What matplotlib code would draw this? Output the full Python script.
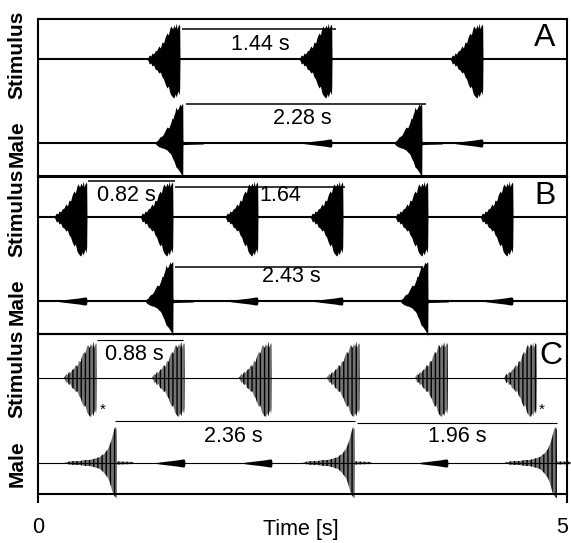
import numpy as np
import matplotlib.pyplot as plt
from matplotlib.transforms import ScaledTranslation

plt.rcParams['font.family'] = ['Liberation Sans', 'DejaVu Sans']
plt.rcParams['hatch.linewidth'] = 1.0

# burst end times (s) for each panel
stim_A = [1.342, 2.779, 4.206]
male_A = [1.370, 3.629]
echo_A = [2.779, 4.206]

stim_B = [0.463, 1.276, 2.079, 2.883, 3.686, 4.490]
male_B = [1.276, 3.686]
echo_B = [0.463, 2.079, 2.883, 4.490]

stim_C = [0.558, 1.389, 2.212, 3.043, 3.875, 4.716]
male_C = [0.747, 2.996, 4.905]
echo_C = [1.389, 2.212, 3.875]

# envelopes (time relative to burst end, amplitude up / down)
stim_env_t = [-0.312, -0.30, -0.29, -0.275, -0.265, -0.25, -0.235, -0.217, -0.20, -0.185,
              -0.170, -0.155, -0.14, -0.123, -0.11, -0.095, -0.085, -0.07, -0.057, -0.045,
              -0.035, -0.028, -0.018, -0.009, -0.003, 0.0]
stim_env_up = [0, 2, 4, 3, 6, 5, 8, 9, 13, 11, 17, 16, 22, 26, 24, 31, 33, 30, 34, 31,
               36, 30, 33, 35, 33, 0]
stim_env_dn = [0, 2, 5, 4, 7, 6, 10, 11, 14, 13, 18, 20, 25, 29, 27, 34, 36, 38, 39, 35,
               38, 35, 32, 36, 30, 0]

male_env_t = [-0.265, -0.25, -0.236, -0.225, -0.217, -0.20, -0.189, -0.17, -0.151, -0.135,
              -0.123, -0.11, -0.104, -0.095, -0.085, -0.075, -0.066, -0.055, -0.047, -0.035,
              -0.028, -0.018, -0.009, -0.002, 0.0, 0.01, 0.19, 0.2]
male_env_up = [0, 2, 3, 5, 6, 7, 8, 12, 16, 15, 18, 22, 25, 24, 28, 31, 36, 33, 34, 37,
               39, 37, 39, 39, 2, 1.5, 1, 0]
male_env_dn = [0, 2, 3, 4, 4, 5, 5, 6, 7, 9, 10, 12, 14, 16, 18, 21, 24, 25, 26, 28,
               29, 31, 33, 35, 2, 1.5, 1, 0]

maleC_env_t = [-0.50, -0.45, -0.40, -0.35, -0.30, -0.26, -0.22, -0.19, -0.16, -0.14,
               -0.12, -0.10, -0.085, -0.07, -0.055, -0.045, -0.035, -0.025, -0.015, -0.008,
               -0.002, 0.0, 0.01, 0.15, 0.16]
maleC_env_up = [0, 1.5, 2, 2, 3, 3, 4, 5, 6, 8, 9, 12, 14, 18, 22, 26, 30, 34, 36, 33,
                36, 1.5, 1.5, 1, 0]
maleC_env_dn = [0, 1.5, 2, 2, 3, 3, 4, 5, 6, 8, 10, 13, 15, 19, 24, 28, 31, 33, 34, 35,
                35, 1.5, 1.5, 1, 0]

echo_env_t = [-0.27, -0.24, -0.20, -0.16, -0.12, -0.08, -0.05, -0.025, -0.01, -0.003, 0.0]
echo_env_up = [0.5, 1, 1.5, 2, 2.5, 3, 3.5, 4, 4, 3, 0]

# interval bars: start, end, height
bars_A = [(1.361, 2.817, 147), (1.399, 3.667, 72)]
bars_B = [(0.473, 1.295, 153), (1.295, 2.902, 147), (1.295, 3.639, 67)]
bars_C = [(0.558, 1.371, 154), (0.728, 2.996, 73), (3.015, 4.905, 71)]

# interval labels: text, time, height
labels_A = [("1.44 s", 2.098, 132), ("2.28 s", 2.495, 58)]
labels_B = [("0.82 s", 0.832, 138), ("1.64", 2.287, 138), ("2.43 s", 2.391, 57)]
labels_C = [("0.88 s", 0.907, 139), ("2.36 s", 1.843, 57), ("1.96 s", 3.960, 57)]

stars_C = [0.614, 4.764]
panel_names = ["A", "B", "C"]


def burst(ax, t_end, base, env_t, up, dn, striped=False):
    t = t_end + np.array(env_t)
    y1 = base + np.array(up)
    y2 = base - np.array(dn)
    if striped:
        ax.fill_between(t, y1, y2, facecolor='0.45', edgecolor='k', hatch='||||',
                        lw=0, clip_on=False)
    else:
        ax.fill_between(t, y1, y2, color='k', lw=0, clip_on=False)


fig = plt.figure(figsize=(5.71, 5.43), dpi=100)
L, W = 38 / 571, 529 / 571
axA = fig.add_axes([L, 1 - 176 / 543, W, 157 / 543])
axB = fig.add_axes([L, 1 - 334 / 543, W, 157 / 543])
axC = fig.add_axes([L, 1 - 494 / 543, W, 160 / 543])

panels = [
    (axA, stim_A, male_A, echo_A, bars_A, labels_A, 157, 117, 33, False),
    (axB, stim_B, male_B, echo_B, bars_B, labels_B, 157, 117, 33, False),
    (axC, stim_C, male_C, echo_C, bars_C, labels_C, 160, 116, 31, True),
]

for i, (ax, st, ml, ec, bars, labs, ytop, sb, mb, thin) in enumerate(panels):
    ax.set_xlim(0, 5)
    ax.set_ylim(0, ytop)
    ax.patch.set_visible(False)
    for s in ax.spines.values():
        s.set_linewidth(1.5)
    lw_base = 0.8 if thin else 1.5
    ax.axhline(sb, color='k', lw=lw_base)
    ax.axhline(mb, color='k', lw=lw_base)

    for t in st:
        burst(ax, t, sb, stim_env_t, stim_env_up, stim_env_dn, striped=thin)
    for t in ec:
        burst(ax, t, mb, echo_env_t, echo_env_up, echo_env_up)
    for t in ml:
        if thin:
            burst(ax, t, mb, maleC_env_t, maleC_env_up, maleC_env_dn, striped=True)
        else:
            burst(ax, t, mb, male_env_t, male_env_up, male_env_dn)

    for t0, t1, y in bars:
        ax.hlines(y, t0, t1, color='k', lw=0.8 if thin else 1.1)
    for txt, t, y in labs:
        ax.text(t, y, txt, fontsize=15.5, ha='center', va='center')

    ax.text(4.79 if i < 2 else 4.85, 138, panel_names[i], fontsize=23,
            ha='center', va='center')

    ax.text(-0.2, sb + 4, "Stimulus", rotation=90, fontsize=15, fontweight='bold',
            ha='center', va='center')
    ax.text(-0.2, mb - 1, "Male", rotation=90, fontsize=15, fontweight='bold',
            ha='center', va='center')

    ax.set_yticks([])
    if i < 2:
        ax.set_xticks([])

for t in stars_C:
    axC.text(t, 84, "*", fontsize=11, ha='center', va='center')

axC.set_xticks([0, 5])
axC.set_xticklabels(["0", "5"])
axC.tick_params(axis='x', direction='out', length=6.5, width=1.5, pad=10, labelsize=15.5)
lbl5 = axC.get_xticklabels()[1]
lbl5.set_transform(lbl5.get_transform() + ScaledTranslation(-0.05, 0, fig.dpi_scale_trans))

fig.text(301 / 571, 1 - 530 / 543, "Time [s]", fontsize=15.5, ha='center', va='center')

fig.savefig("out.png", dpi=100)
